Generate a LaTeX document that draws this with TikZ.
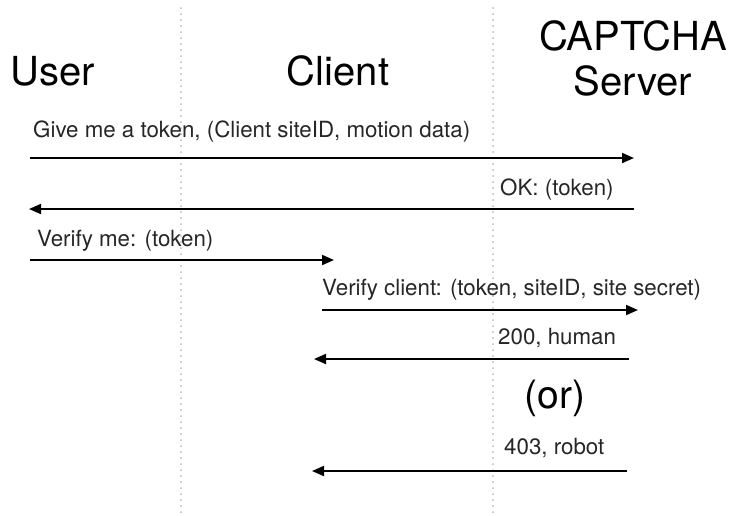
\documentclass[tikz,border=0pt]{standalone}
\usepackage{fontspec}
\setmainfont{TeX Gyre Heros}
\usetikzlibrary{arrows.meta}
\begin{document}
\begin{tikzpicture}[x=1pt,y=-1pt,
  head/.style={font=\fontsize{40}{44}\selectfont, inner sep=0pt, text=black},
  lbl/.style={font=\fontsize{22.3}{26}\selectfont, inner sep=0pt, text=black!85, anchor=base west},
  msg/.style={line width=1.9pt, -{Triangle[length=12pt,width=10pt]}},
  life/.style={draw=black!28, line width=2pt, dash pattern=on 0pt off 6pt, line cap=round}]
\useasboundingbox (0,0) rectangle (752,515);
% lifelines
\coordinate (c1t) at (181,8); \coordinate (c1b) at (181,515);
\coordinate (c2t) at (493,8); \coordinate (c2b) at (493,515);
\draw[life] (c1t) -- (c1b);
\draw[life] (c2t) -- (c2b);
% headers
\node[head, anchor=base] (user) at (53,85) {User};
\node[head, anchor=base] (client) at (338,85) {Client};
\node[head, anchor=base] (captcha) at (633,50) {CAPTCHA};
\node[head, anchor=base] (server) at (633,95) {Server};
% messages
\coordinate (a1s) at (30,158); \coordinate (a1e) at (634,158);
\node[lbl] (l1) at (33,137) {Give me a token, (Client siteID, motion data)};
\draw[msg] (a1s) -- (a1e);
\coordinate (a2s) at (634,209); \coordinate (a2e) at (29,209);
\node[lbl] (l2) at (500,195) {OK: (token)};
\draw[msg] (a2s) -- (a2e);
\coordinate (a3s) at (30,260); \coordinate (a3e) at (334,260);
\node[lbl] (l3) at (37,246) {Verify me: (token)};
\draw[msg] (a3s) -- (a3e);
\coordinate (a4s) at (322,310); \coordinate (a4e) at (638,310);
\node[lbl] (l4) at (322,295) {Verify client: (token, siteID, site secret)};
\draw[msg] (a4s) -- (a4e);
\coordinate (a5s) at (629,359); \coordinate (a5e) at (314,359);
\node[lbl] (l5) at (498,344) {200, human};
\draw[msg] (a5s) -- (a5e);
\node[font=\fontsize{39}{43}\selectfont, inner sep=0pt, text=black] (or) at (555,398) {(or)};
\coordinate (a6s) at (627,471); \coordinate (a6e) at (312,471);
\node[lbl] (l6) at (504,454) {403, robot};
\draw[msg] (a6s) -- (a6e);
\end{tikzpicture}
\end{document}
